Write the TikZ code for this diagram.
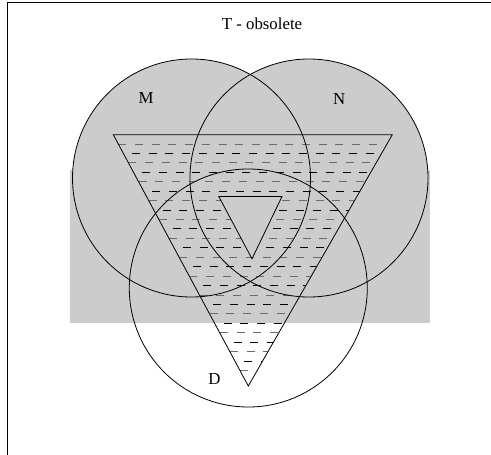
\documentclass[tikz,border=0pt]{standalone}
\usepackage{fontspec}
\setmainfont{Liberation Serif}
\definecolor{graybg}{HTML}{CCCCCC}
\begin{document}
\begin{tikzpicture}[x=1pt,y=-1pt,
  lbl/.style={anchor=base,inner sep=0pt,font=\fontsize{16.8pt}{18pt}\selectfont},
  outline/.style={draw=black,line width=0.8pt},
  grayfill/.style={fill=graybg,draw=none},
  graydash/.style={draw=black!58,line width=1pt,dash pattern=on 8pt off 8.7pt},
  blackdash/.style={draw=black,line width=1pt,dash pattern=on 8pt off 8.7pt,dash phase=8pt}]
\useasboundingbox (0,0) rectangle (491,455);
% frame
\draw[line width=1.2pt] (7.7,455) -- (7.7,2.3) -- (491,2.3);
% gray region
\path[grayfill] (70,170) rectangle (430,323.3);
\path[grayfill] (191.5,178) circle (119);
\path[grayfill] (309,178) circle (119);
% big triangle coordinates
\coordinate (A) at (113.3,134.7);
\coordinate (B) at (392.3,134.7);
\coordinate (C) at (248.3,386);
% dashes
\begin{scope}
\clip (A) -- (B) -- (C) -- cycle;
\foreach \i in {0,...,24}{
  \pgfmathsetmacro{\yy}{144+9.444*\i}
  \pgfmathsetmacro{\xl}{113.3+0.5378*(\yy-134.7)}
  \pgfmathsetmacro{\xr}{392.3-0.5737*(\yy-134.7)}
  \ifodd\i
    \draw[blackdash] (\xl,\yy) -- (\xr,\yy);
  \else
    \draw[graydash] (\xl,\yy) -- (\xr,\yy);
  \fi
}
\end{scope}
% small triangle
\coordinate (P) at (218.8,196.5);
\coordinate (Q) at (282,196.5);
\coordinate (R) at (252,258.8);
\path[grayfill] (P) -- (Q) -- (R) -- cycle;
% outlines
\draw[outline] (191.5,178) circle (119);
\draw[outline] (309,178) circle (119);
\draw[outline] (248.3,288) circle (119);
\draw[outline] (A) -- (B) -- (C) -- cycle;
\draw[outline] (P) -- (Q) -- (R) -- cycle;
% labels
\node[lbl] (title) at (262,30) {T - obsolete};
\node[lbl] (m) at (146,103.3) {M};
\node[lbl] (n) at (339.3,104) {N};
\node[lbl] (d) at (214.5,384) {D};
\end{tikzpicture}
\end{document}
